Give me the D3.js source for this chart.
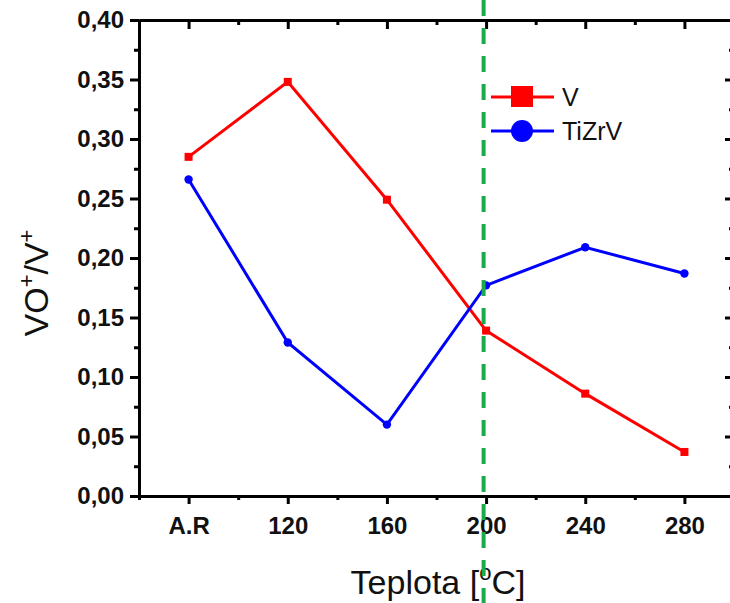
<!DOCTYPE html>
<html>
<head>
<meta charset="utf-8">
<script src="https://cdn.jsdelivr.net/npm/d3@7"></script>
<style>
  body { margin: 0; background: #fff; }
  svg { display: block; font-family: Arial, "Liberation Sans", sans-serif; }
  .axis path, .axis line { stroke: #000; stroke-width: 3; }
  .axis text { font-weight: bold; font-size: 24px; fill: #111; }
</style>
</head>
<body>
<svg id="chart" width="730" height="603"></svg>
<script>
// data
var temps = [80, 120, 160, 200, 240, 280];          // x positions (A.R put at 80)
var tempLabels = ['A.R', '120', '160', '200', '240', '280'];
var seriesV = [0.285, 0.348, 0.249, 0.139, 0.086, 0.037];
var seriesTiZrV = [0.266, 0.129, 0.060, 0.177, 0.209, 0.187];
var yTicks = [0, 0.05, 0.10, 0.15, 0.20, 0.25, 0.30, 0.35, 0.40];
var yMinor = [0.025, 0.075, 0.125, 0.175, 0.225, 0.275, 0.325, 0.375];
var xMinor = [60, 100, 140, 180, 220, 260, 300];
var markTemp = 199;   // green dashed line

var svg = d3.select('#chart');
var x = d3.scaleLinear().domain([60, 300]).range([139, 734]);
var y = d3.scaleLinear().domain([0, 0.40]).range([496, 20]);
var fmt = function(d) { return d3.format('.2f')(d).replace('.', ','); };

// bottom axis (ticks outward)
svg.append('g').attr('class', 'axis')
  .attr('transform', 'translate(0,' + y(0) + ')')
  .call(d3.axisBottom(x).tickValues(xMinor).tickSizeInner(4).tickSizeOuter(0).tickFormat(''));
svg.append('g').attr('class', 'axis')
  .attr('transform', 'translate(0,' + y(0) + ')')
  .call(d3.axisBottom(x).tickValues(temps).tickSizeInner(8).tickSizeOuter(0).tickPadding(8)
    .tickFormat(function(d, i) { return tempLabels[i]; }))
  .selectAll('text').attr('dy', '0.9em');

// top axis (ticks inward)
svg.append('g').attr('class', 'axis')
  .attr('transform', 'translate(0,' + y(0.40) + ')')
  .call(d3.axisTop(x).tickValues(xMinor).tickSizeInner(-5).tickSizeOuter(0).tickFormat(''));
svg.append('g').attr('class', 'axis')
  .attr('transform', 'translate(0,' + y(0.40) + ')')
  .call(d3.axisTop(x).tickValues(temps).tickSizeInner(-9).tickSizeOuter(0).tickFormat(''));

// left axis (ticks outward)
svg.append('g').attr('class', 'axis')
  .attr('transform', 'translate(' + x(60) + ',0)')
  .call(d3.axisLeft(y).tickValues(yMinor).tickSizeInner(5).tickSizeOuter(0).tickFormat(''));
svg.append('g').attr('class', 'axis')
  .attr('transform', 'translate(' + x(60) + ',0)')
  .call(d3.axisLeft(y).tickValues(yTicks).tickSizeInner(9).tickSizeOuter(0).tickPadding(6).tickFormat(fmt));

// right axis (ticks inward, cut off by the edge)
svg.append('g').attr('class', 'axis')
  .attr('transform', 'translate(' + x(300) + ',0)')
  .call(d3.axisRight(y).tickValues(yMinor).tickSizeInner(-5).tickSizeOuter(0).tickFormat(''));
svg.append('g').attr('class', 'axis')
  .attr('transform', 'translate(' + x(300) + ',0)')
  .call(d3.axisRight(y).tickValues(yTicks.slice(1, 8)).tickSizeInner(-9).tickSizeOuter(0).tickFormat(''));

// series
var line = d3.line().x(function(d, i) { return x(temps[i]); }).y(function(d) { return y(d); });

svg.append('path').datum(seriesV)
  .attr('d', line).attr('fill', 'none').attr('stroke', '#ff0000').attr('stroke-width', 3);
svg.selectAll('.sq').data(seriesV).enter().append('rect')
  .attr('x', function(d, i) { return x(temps[i]) - 4; })
  .attr('y', function(d) { return y(d) - 4; })
  .attr('width', 8).attr('height', 8).attr('fill', '#ff0000');

svg.append('path').datum(seriesTiZrV)
  .attr('d', line).attr('fill', 'none').attr('stroke', '#0000ff').attr('stroke-width', 3);
svg.selectAll('.ci').data(seriesTiZrV).enter().append('circle')
  .attr('cx', function(d, i) { return x(temps[i]); })
  .attr('cy', function(d) { return y(d); })
  .attr('r', 4.2).attr('fill', '#0000ff');

// legend
var lg = svg.append('g');
lg.append('line').attr('x1', 491).attr('x2', 554).attr('y1', 97).attr('y2', 97)
  .attr('stroke', '#ff0000').attr('stroke-width', 3);
lg.append('rect').attr('x', 511).attr('y', 86).attr('width', 22).attr('height', 21).attr('fill', '#ff0000');
lg.append('text').attr('x', 562).attr('y', 106).attr('font-size', 25).attr('fill', '#111').text('V');
lg.append('line').attr('x1', 491).attr('x2', 554).attr('y1', 131).attr('y2', 131)
  .attr('stroke', '#0000ff').attr('stroke-width', 3);
lg.append('circle').attr('cx', 522).attr('cy', 131).attr('r', 11).attr('fill', '#0000ff');
lg.append('text').attr('x', 562).attr('y', 140).attr('font-size', 25).attr('fill', '#111').text('TiZrV');

// axis titles
var yl = svg.append('text')
  .attr('transform', 'translate(48,283) rotate(-90)')
  .attr('text-anchor', 'middle').attr('font-size', 34).attr('fill', '#111');
yl.append('tspan').text('VO');
yl.append('tspan').attr('font-size', 22).attr('dy', -14).text('+');
yl.append('tspan').attr('dy', 14).text('/V');
yl.append('tspan').attr('font-size', 22).attr('dy', -14).text('+');

var xl = svg.append('text')
  .attr('x', 438).attr('y', 594)
  .attr('text-anchor', 'middle').attr('font-size', 34).attr('fill', '#111');
xl.append('tspan').text('Teplota [');
xl.append('tspan').attr('font-size', 22).attr('dy', -14).text('o');
xl.append('tspan').attr('dy', 14).text('C]');

// green dashed marker
svg.append('line')
  .attr('x1', x(markTemp)).attr('x2', x(markTemp)).attr('y1', 0).attr('y2', 603)
  .attr('stroke', '#1aab4b').attr('stroke-width', 4).attr('stroke-dasharray', '16,12');
</script>
</body>
</html>
